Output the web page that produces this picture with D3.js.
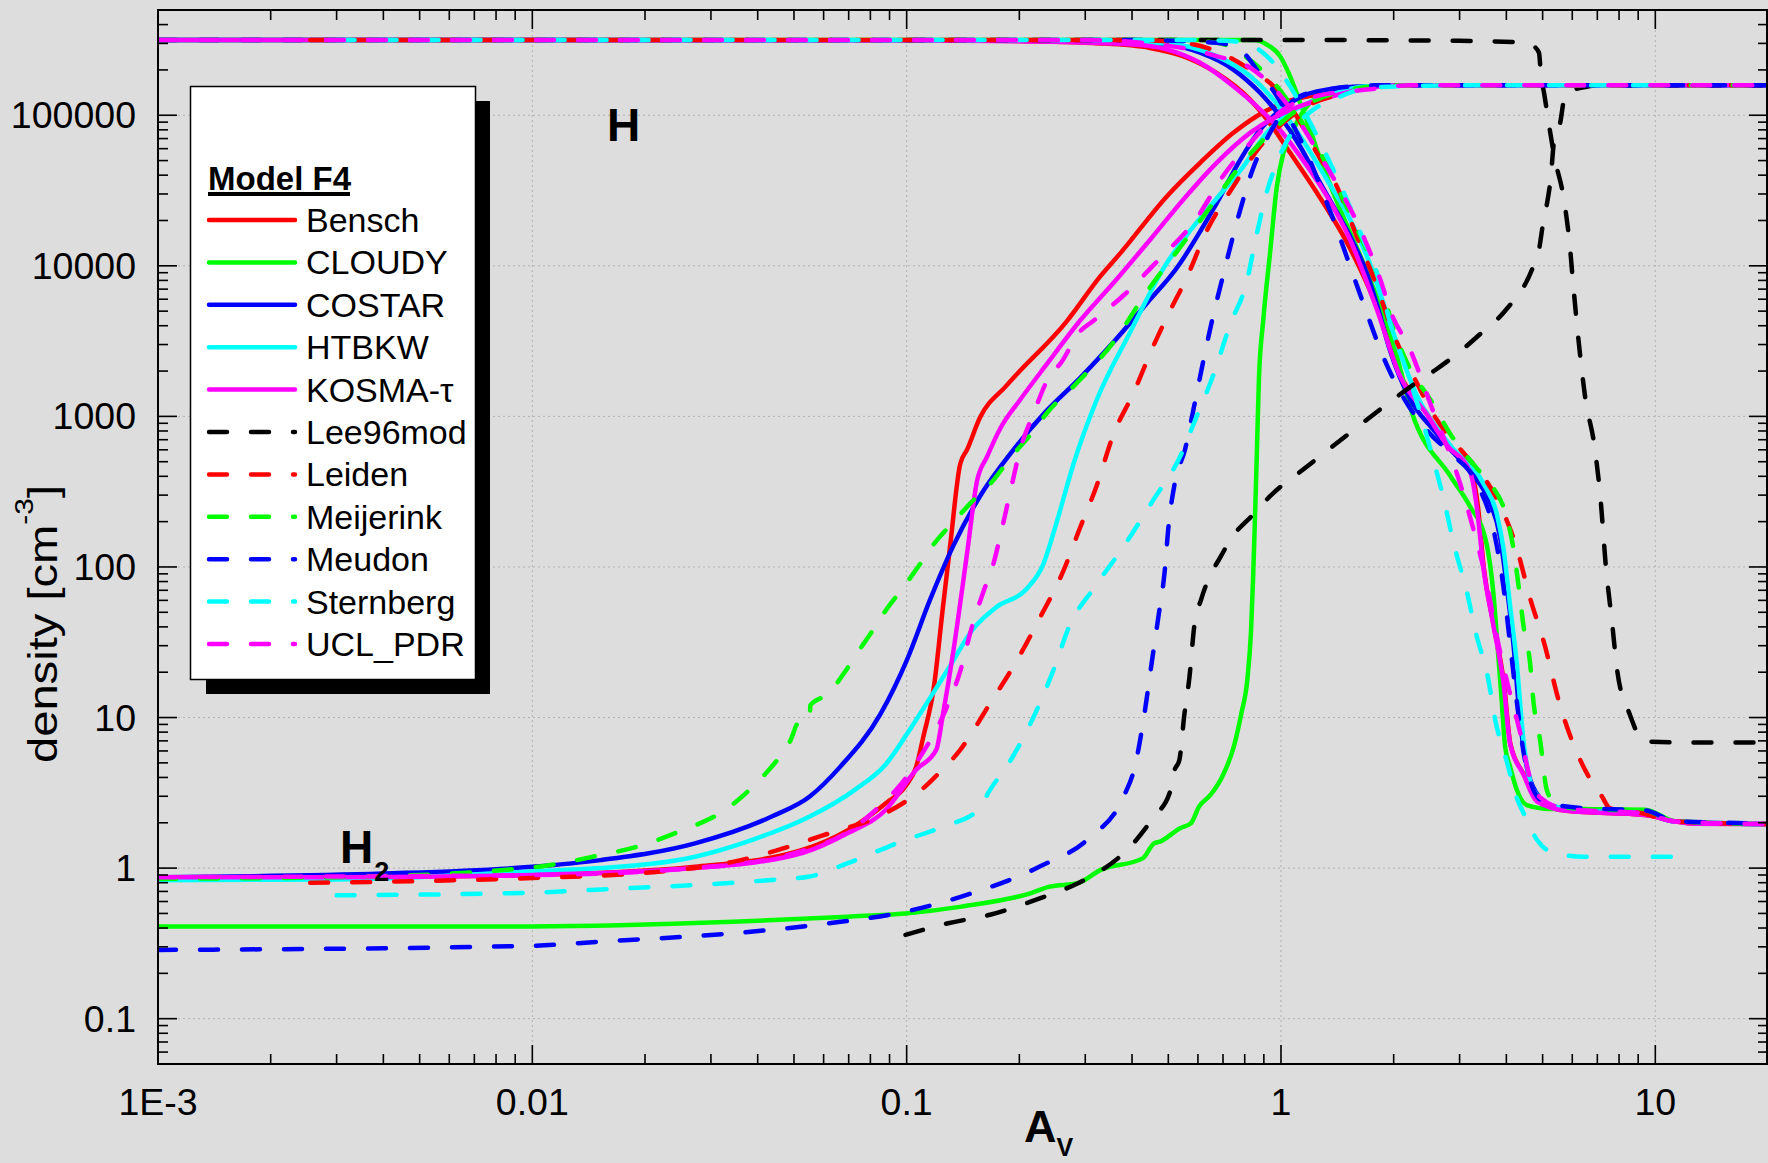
<!DOCTYPE html>
<html><head><meta charset="utf-8">
<script src="https://cdn.jsdelivr.net/npm/d3@7"></script>
<style>
html,body{margin:0;padding:0;background:#dddddd;}
svg{display:block;font-family:"Liberation Sans",Arial,sans-serif;}
</style></head>
<body>
<svg id="chart" width="1768" height="1163"></svg>
<script>
// ---------------- data: [A_V, density] ----------------
const benschH2 = [[0.001,0.87],[0.003,0.87],[0.01,0.9],[0.0272,1.02],[0.0526,1.32],[0.07,1.8],[0.088,2.7],[0.0993,3.5],[0.106,4.7],[0.111,7.6],[0.118,15.4],[0.125,54],[0.1306,137],[0.139,483],[0.145,601],[0.157,982],[0.185,1607],[0.268,4296],[0.329,8510],[0.372,12100],[0.496,29000],[0.608,48300],[0.746,76400],[0.861,98500],[1.014,121000],[1.246,137000],[1.53,152000],[2.08,158000],[20,158000]];
const benschH = [[0.001,316000],[0.1,315000],[0.178,312000],[0.329,300000],[0.447,280000],[0.547,247000],[0.673,191000],[0.827,127000],[0.917,94000],[1.057,56500],[1.247,30600],[1.531,13000],[1.804,5300],[2.08,1900],[2.45,1050],[2.77,650],[3.1,480],[3.25,400],[3.36,250],[3.48,100],[3.7,41],[3.94,17],[4.1,6.7],[4.45,4.2],[4.83,2.8],[5.8,2.4],[9.4,2.25],[11.3,2.04],[12.8,1.97],[20,1.96]];

const cloudyH2 = [[0.001,0.41],[0.01,0.41],[0.0343,0.44],[0.0697,0.476],[0.0993,0.5],[0.14,0.555],[0.214,0.68],[0.241,0.753],[0.286,0.794],[0.33,0.973],[0.427,1.16],[0.458,1.46],[0.475,1.5],[0.537,1.84],[0.575,1.99],[0.604,2.56],[0.648,3.06],[0.697,4.06],[0.748,6.4],[0.784,10.7],[0.813,17.8],[0.832,38.3],[0.842,82],[0.853,228],[0.863,631],[0.873,1754],[0.897,4400],[0.935,12200],[0.975,33700],[1.015,56200],[1.079,80000],[1.125,98500],[1.197,121000],[1.298,137000],[1.53,148000],[2.0,158000],[20,158000]];
const cloudyH = [[0.001,316000],[0.85,316000],[0.916,295000],[0.994,247000],[1.057,182000],[1.125,121000],[1.197,80000],[1.247,59000],[1.4,28000],[1.7,9000],[2.0,3000],[2.24,1054],[2.84,399],[3.2,252],[3.52,152],[3.7,63.7],[3.79,29.6],[3.88,13.8],[3.97,6.4],[4.094,4.71],[4.265,3.31],[4.535,2.62],[5.236,2.47],[9.4,2.44],[11.3,2.05],[20,1.96]];

const costarH2 = [[0.001,0.87],[0.004,0.92],[0.01,1.02],[0.0152,1.13],[0.0272,1.46],[0.0436,2.2],[0.0551,2.99],[0.0665,4.72],[0.085,10.5],[0.1,23.9],[0.1155,60.6],[0.133,137],[0.157,295],[0.193,601],[0.237,1096],[0.29,1790],[0.356,3090],[0.44,5700],[0.532,10000],[0.6,16000],[0.673,26000],[0.776,50000],[0.879,80000],[1.014,112000],[1.247,144000],[1.695,156000],[2.5,158000],[20,158000]];
const costarH = [[0.001,316000],[0.2,315000],[0.35,305000],[0.495,295000],[0.608,260000],[0.746,201000],[0.879,141000],[0.994,98500],[1.125,62000],[1.246,39000],[1.38,24900],[1.53,15700],[1.695,8970],[1.8,5660],[1.95,2800],[2.213,1300],[2.555,815],[2.83,608],[3.334,380],[3.619,268],[3.849,158],[4.011,73.9],[4.178,30.7],[4.353,9.5],[4.535,4.71],[4.823,3.13],[5.236,2.62],[6.427,2.4],[9.4,2.3],[11.3,2.04],[20,1.96]];

const htbkwH2 = [[0.001,0.83],[0.003,0.84],[0.01,0.95],[0.0152,1.0],[0.0272,1.19],[0.0387,1.54],[0.0551,2.2],[0.0727,3.31],[0.088,4.9],[0.1038,8.9],[0.128,20.3],[0.151,39.1],[0.174,54.3],[0.209,71.3],[0.232,105],[0.252,201],[0.279,483],[0.322,1290],[0.396,3650],[0.49,10000],[0.56,16000],[0.673,28000],[0.794,45800],[0.917,76400],[1.057,104000],[1.326,134000],[1.695,156000],[2.5,158000],[20,158000]];
const htbkwH = [[0.001,316000],[0.2,315000],[0.495,300000],[0.673,247000],[0.827,182000],[0.954,127000],[1.125,72500],[1.326,37400],[1.53,20300],[1.765,8970],[1.877,5660],[2.306,1379],[2.83,645],[3.473,359],[3.771,225],[3.929,133],[4.094,55],[4.265,22.9],[4.443,7.1],[4.725,3.31],[5.236,2.62],[6.43,2.4],[9.4,2.3],[11.3,2.04],[20,1.96]];

const kosmaH2 = [[0.001,0.87],[0.003,0.87],[0.01,0.9],[0.0272,1.0],[0.0526,1.26],[0.0697,1.71],[0.088,2.44],[0.106,4.5],[0.12,6.1],[0.125,10.5],[0.133,26.7],[0.145,123],[0.154,368],[0.164,540],[0.178,834],[0.201,1290],[0.237,2230],[0.29,4300],[0.363,8090],[0.447,14900],[0.548,27500],[0.673,48300],[0.827,76400],[0.975,98500],[1.125,115000],[1.38,134000],[1.695,152000],[2.08,158000],[20,158000]];
const kosmaH = [[0.001,316000],[0.1,315000],[0.2,310000],[0.404,295000],[0.495,274000],[0.608,223000],[0.746,156000],[0.861,115000],[0.975,84500],[1.125,53500],[1.326,29000],[1.53,14900],[1.804,5120],[2.08,1849],[2.453,1029],[2.773,645],[3.201,428],[3.334,252],[3.473,99],[3.694,41],[3.929,17],[4.094,6.7],[4.443,4.19],[4.823,2.78],[5.801,2.4],[9.4,2.25],[11.3,2.04],[12.8,1.97],[20,1.96]];

const lee96H2 = [[0.0993,0.36],[0.129,0.43],[0.167,0.49],[0.221,0.615],[0.286,0.79],[0.322,0.925],[0.371,1.19],[0.407,1.5],[0.458,2.2],[0.504,3.15],[0.52,4.5],[0.535,5.2],[0.552,10.5],[0.569,18.2],[0.587,41],[0.612,61],[0.636,80],[0.69,117],[0.734,153],[0.844,224],[0.935,295],[1.176,466],[1.567,816],[1.99,1290],[2.36,1750],[2.59,2040],[3.05,2774],[3.43,3580],[3.96,4990],[4.72,9930],[4.89,12800],[5.0,18300],[5.12,24800],[5.25,37400],[5.37,69000],[5.57,89000],[5.7,127000],[5.83,144000],[6.34,152000],[7,158000],[20,158000]];
const lee96H = [[0.1,316000],[1,316000],[3,312000],[4.35,305000],[4.7,290000],[4.89,260000],[4.94,196000],[5.06,134000],[5.37,53500],[5.7,27500],[5.9,14200],[6.04,7310],[6.26,2920],[6.49,1358],[6.88,631],[7.13,294],[7.38,100],[7.65,44.6],[7.93,19.7],[8.52,10.7],[9.37,6.92],[13.4,6.82],[20,6.82]];

const leidenH2 = [[0.00255,0.8],[0.005,0.82],[0.01,0.86],[0.02,0.93],[0.0343,1.1],[0.062,1.7],[0.088,2.32],[0.112,3.48],[0.117,3.86],[0.139,6.1],[0.167,12.4],[0.197,23.9],[0.227,46],[0.262,93.7],[0.29,180],[0.322,348],[0.356,748],[0.404,1440],[0.456,2930],[0.506,5060],[0.562,8500],[0.63,16600],[0.746,33700],[0.879,62000],[1.014,89000],[1.172,115000],[1.38,134000],[1.63,148000],[2.2,158000],[20,158000]];
const leidenH = [[0.00255,316000],[0.4,316000],[0.547,303000],[0.673,266000],[0.827,201000],[0.954,156000],[1.101,98500],[1.247,56200],[1.41,33700],[1.594,15700],[1.804,7310],[2.0,3500],[2.259,1849],[2.555,1029],[3.07,573],[3.334,453],[3.771,284],[4.265,133],[4.629,62],[5.024,32.5],[5.568,12.0],[6.427,4.71],[7.21,2.98],[7.56,2.5],[9.15,2.32],[11.3,2.04],[20,1.96]];

const meijerinkH2 = [[0.001,0.85],[0.003,0.87],[0.01,1.01],[0.0152,1.22],[0.0191,1.39],[0.0247,1.75],[0.0328,2.44],[0.0405,3.86],[0.0436,4.72],[0.049,7.1],[0.0513,9.2],[0.0551,9.6],[0.0553,12.1],[0.062,14.5],[0.068,19.7],[0.0748,28.2],[0.0803,36.4],[0.0882,52],[0.0969,70.6],[0.109,106],[0.117,137],[0.135,206],[0.148,265],[0.171,380],[0.1875,515],[0.216,776],[0.237,1054],[0.284,1653],[0.356,3090],[0.437,6650],[0.524,12200],[0.63,22400],[0.776,45800],[0.917,72500],[1.08,104000],[1.247,127000],[1.53,148000],[2.0,158000],[20,158000]];
const meijerinkH = [[0.001,316000],[0.5,316000],[0.673,303000],[0.844,223000],[0.975,156000],[1.125,94000],[1.274,56200],[1.438,30500],[1.63,15700],[1.843,7690],[2.0,3800],[2.213,2058],[2.502,1300],[2.83,768],[3.334,453],[3.619,359],[4.011,212],[4.178,133],[4.353,62],[4.443,41],[4.629,22.9],[4.725,12.8],[4.922,7.1],[5.129,3.31],[5.455,2.62],[6.43,2.47],[9.4,2.4],[11.3,2.05],[20,1.96]];

const meudonH2 = [[0.001,0.286],[0.01,0.305],[0.0152,0.325],[0.0343,0.369],[0.062,0.43],[0.0993,0.514],[0.14,0.647],[0.226,1.02],[0.307,1.58],[0.38,2.99],[0.407,4.72],[0.433,11.1],[0.451,22.7],[0.47,46],[0.489,93.7],[0.5,180],[0.521,367],[0.554,601],[0.583,1096],[0.615,2110],[0.654,4300],[0.695,8000],[0.741,15000],[0.78,24000],[0.844,45000],[0.917,70000],[0.994,98500],[1.125,134000],[1.326,148000],[1.8,158000],[20,158000]];
const meudonH = [[0.001,316000],[0.4,316000],[0.673,303000],[0.794,260000],[0.861,201000],[0.975,134000],[1.057,94000],[1.172,56200],[1.274,33700],[1.38,20300],[1.53,9930],[1.695,4860],[1.877,2478],[2.168,1227],[2.502,768],[2.83,573],[3.334,359],[3.694,178],[3.929,73.9],[4.094,30.7],[4.265,12.8],[4.443,5.96],[4.725,3.31],[5.02,2.78],[6.43,2.5],[9.4,2.42],[11.3,2.05],[20,1.98]];

const sternbergH2 = [[0.003,0.66],[0.01,0.687],[0.0143,0.716],[0.0436,0.835],[0.0551,0.88],[0.0697,1.08],[0.0993,1.54],[0.1256,1.89],[0.1553,2.44],[0.167,3.31],[0.1875,4.98],[0.218,10],[0.246,20.3],[0.273,41.3],[0.315,71.3],[0.38,137],[0.456,279],[0.537,538],[0.5935,982],[0.66,1893],[0.731,4060],[0.81,7830],[0.86,16000],[0.92,32000],[0.975,48300],[1.079,80000],[1.22,109000],[1.38,127000],[1.63,148000],[2.08,156000],[3,158000],[11.2,158000]];
const sternbergH = [[0.003,316000],[0.608,316000],[0.746,310000],[0.844,287000],[0.954,223000],[1.057,156000],[1.172,98500],[1.274,65600],[1.38,43500],[1.5,27500],[1.63,16600],[1.804,8970],[1.957,4200],[2.2,1800],[2.4,900],[2.555,510],[2.71,294],[2.91,135],[3.13,70],[3.32,36],[3.57,18.5],[3.74,9.5],[4.02,5],[4.25,3],[4.443,2.33],[4.823,1.55],[5.344,1.26],[6.427,1.19],[11.2,1.19]];

const uclH2 = [[0.001,0.87],[0.01,0.9],[0.0272,1.0],[0.0526,1.3],[0.07,1.75],[0.0877,2.8],[0.094,3.34],[0.1086,5.47],[0.128,11.7],[0.139,20.3],[0.149,39.1],[0.16,67.5],[0.1705,105],[0.178,162],[0.189,312],[0.201,601],[0.218,1038],[0.242,1893],[0.257,2230],[0.29,3650],[0.315,4300],[0.387,6650],[0.47,10900],[0.592,20300],[0.7,39400],[0.844,69000],[1.014,109000],[1.247,134000],[1.695,148000],[2.2,158000],[20,158000]];
const uclH = [[0.001,316000],[0.3,316000],[0.547,280000],[0.673,247000],[0.827,207000],[0.975,144000],[1.125,89000],[1.274,53500],[1.438,32000],[1.63,17400],[1.843,8090],[1.97,4860],[2.213,2785],[2.502,1227],[3.009,359],[3.267,178],[3.473,99],[3.849,27.3],[4.094,14.3],[4.353,7.97],[4.629,3.95],[4.922,2.95],[5.8,2.47],[9.4,2.3],[11.3,2.04],[20,1.96]];

// model names and tick labels
const modelNames = ["Bensch","CLOUDY","COSTAR","HTBKW","KOSMA-\u03c4","Lee96mod","Leiden","Meijerink","Meudon","Sternberg","UCL_PDR"];
const modelH  = [benschH, cloudyH, costarH, htbkwH, kosmaH, lee96H, leidenH, meijerinkH, meudonH, sternbergH, uclH];
const modelH2 = [benschH2, cloudyH2, costarH2, htbkwH2, kosmaH2, lee96H2, leidenH2, meijerinkH2, meudonH2, sternbergH2, uclH2];
const xTickValues = [0.001, 0.01, 0.1, 1, 10];
const xTickLabels = ["1E-3", "0.01", "0.1", "1", "10"];
const yTickValues = [0.1, 1, 10, 100, 1000, 10000, 100000];
const yTickLabels = ["0.1", "1", "10", "100", "1000", "10000", "100000"];

// ---------------- styles ----------------
const colors = ["#ff0000","#00ff00","#0000ff","#00ffff","#ff00ff","#000000","#ff0000","#00ff00","#0000ff","#00ffff","#ff00ff"];
const dashed = [false,false,false,false,false,true,true,true,true,true,true];
const DASH = "18,24";
const LW = 4.5;

const svg = d3.select("#chart");
const W = 1768, H = 1163;
const L = 158, R = 1768, T = 10, B = 1064;
svg.append("rect").attr("width", W).attr("height", H).attr("fill", "#dddddd");

const x = d3.scaleLog().domain([0.001, 20]).range([L, R]);
const y = d3.scaleLog().domain([0.05, 500000]).range([B, T]);

// grid
const grid = svg.append("g").attr("stroke", "#b2b2b2").attr("stroke-width", 1).attr("stroke-dasharray", "2,3");
xTickValues.forEach(v => { if (v > 0.001) grid.append("line").attr("x1", x(v)).attr("x2", x(v)).attr("y1", T).attr("y2", B); });
yTickValues.forEach(v => grid.append("line").attr("x1", L).attr("x2", R).attr("y1", y(v)).attr("y2", y(v)));

// curves
svg.append("clipPath").attr("id", "clip").append("rect").attr("x", L).attr("y", T).attr("width", R - L).attr("height", B - T);
const line = d3.line().x(d => x(d[0])).y(d => y(d[1])).curve(d3.curveMonotoneX);
const curves = svg.append("g").attr("clip-path", "url(#clip)").attr("fill", "none");
modelNames.forEach((name, i) => {
  [modelH2[i], modelH[i]].forEach(data => {
    curves.append("path").datum(data).attr("d", line)
      .attr("stroke", colors[i]).attr("stroke-width", LW)
      .attr("stroke-linecap", "round").attr("stroke-linejoin", "round")
      .attr("stroke-dasharray", dashed[i] ? DASH : null);
  });
});

// axes frame & ticks
const ax = svg.append("g").attr("stroke", "#000");
ax.append("rect").attr("x", L).attr("y", T).attr("width", R - L - 1).attr("height", B - T)
  .attr("fill", "none").attr("stroke-width", 2);
const minorX = [], minorY = [];
for (let e = -3; e <= 1; e++) for (let m = 2; m <= 9; m++) { const v = m * Math.pow(10, e); if (v < 20) minorX.push(v); }
for (let e = -2; e <= 5; e++) for (let m = 2; m <= 9; m++) { const v = m * Math.pow(10, e); if (v > 0.05 && v < 500000) minorY.push(v); }
const tw = 1.6;
xTickValues.forEach(v => {
  ax.append("line").attr("x1", x(v)).attr("x2", x(v)).attr("y1", B).attr("y2", B - 19).attr("stroke-width", tw);
  ax.append("line").attr("x1", x(v)).attr("x2", x(v)).attr("y1", T).attr("y2", T + 19).attr("stroke-width", tw);
});
minorX.forEach(v => {
  ax.append("line").attr("x1", x(v)).attr("x2", x(v)).attr("y1", B).attr("y2", B - 10).attr("stroke-width", tw);
  ax.append("line").attr("x1", x(v)).attr("x2", x(v)).attr("y1", T).attr("y2", T + 10).attr("stroke-width", tw);
});
yTickValues.forEach(v => {
  ax.append("line").attr("x1", L).attr("x2", L + 19).attr("y1", y(v)).attr("y2", y(v)).attr("stroke-width", tw);
  ax.append("line").attr("x1", R - 1).attr("x2", R - 19).attr("y1", y(v)).attr("y2", y(v)).attr("stroke-width", tw);
});
minorY.forEach(v => {
  ax.append("line").attr("x1", L).attr("x2", L + 10).attr("y1", y(v)).attr("y2", y(v)).attr("stroke-width", tw);
  ax.append("line").attr("x1", R - 1).attr("x2", R - 10).attr("y1", y(v)).attr("y2", y(v)).attr("stroke-width", tw);
});

// tick labels
const lab = svg.append("g").attr("fill", "#000").attr("font-size", 37.5);
xTickValues.forEach((v, i) => lab.append("text").attr("x", x(v)).attr("y", 1115).attr("text-anchor", "middle").text(xTickLabels[i]));
yTickValues.forEach((v, i) => lab.append("text").attr("x", 136).attr("y", y(v) + 13).attr("text-anchor", "end").text(yTickLabels[i]));

// axis titles
const xt = svg.append("text").attr("x", 1024).attr("y", 1142).attr("font-size", 45).attr("font-weight", "bold");
xt.append("tspan").text("A");
xt.append("tspan").attr("font-size", 25).attr("dy", 14).text("V");
const yt = svg.append("text").attr("transform", "translate(57,624) rotate(-90) scale(1.15,1)")
  .attr("text-anchor", "middle").attr("font-size", 41);
yt.append("tspan").text("density [cm");
yt.append("tspan").attr("font-size", 26).attr("dy", -24).text("-3");
yt.append("tspan").attr("dy", 24).text("]");

// species labels
svg.append("text").attr("x", 607).attr("y", 141).attr("font-size", 46).attr("font-weight", "bold").text("H");
const h2 = svg.append("text").attr("x", 340).attr("y", 863).attr("font-size", 46).attr("font-weight", "bold");
h2.append("tspan").text("H");
h2.append("tspan").attr("font-size", 27).attr("dy", 18).attr("dx", 1).text("2");

// legend
const lg = svg.append("g");
lg.append("rect").attr("x", 206).attr("y", 101).attr("width", 284).attr("height", 593).attr("fill", "#000");
lg.append("rect").attr("x", 190.5).attr("y", 86.5).attr("width", 285).attr("height", 593).attr("fill", "#fff").attr("stroke", "#000").attr("stroke-width", 1.5);
lg.append("text").attr("x", 208).attr("y", 190).attr("font-size", 33).attr("font-weight", "bold").text("Model F4");
lg.append("line").attr("x1", 208).attr("x2", 350).attr("y1", 194).attr("y2", 194).attr("stroke", "#000").attr("stroke-width", 4);
modelNames.forEach((name, i) => {
  const yy = 220 + i * 42.4;
  lg.append("line").attr("x1", 209).attr("x2", 295).attr("y1", yy).attr("y2", yy)
    .attr("stroke", colors[i]).attr("stroke-width", LW).attr("stroke-linecap", "round")
    .attr("stroke-dasharray", dashed[i] ? DASH : null);
  lg.append("text").attr("x", 306).attr("y", yy + 12).attr("font-size", 34).text(name);
});
</script>
</body></html>
